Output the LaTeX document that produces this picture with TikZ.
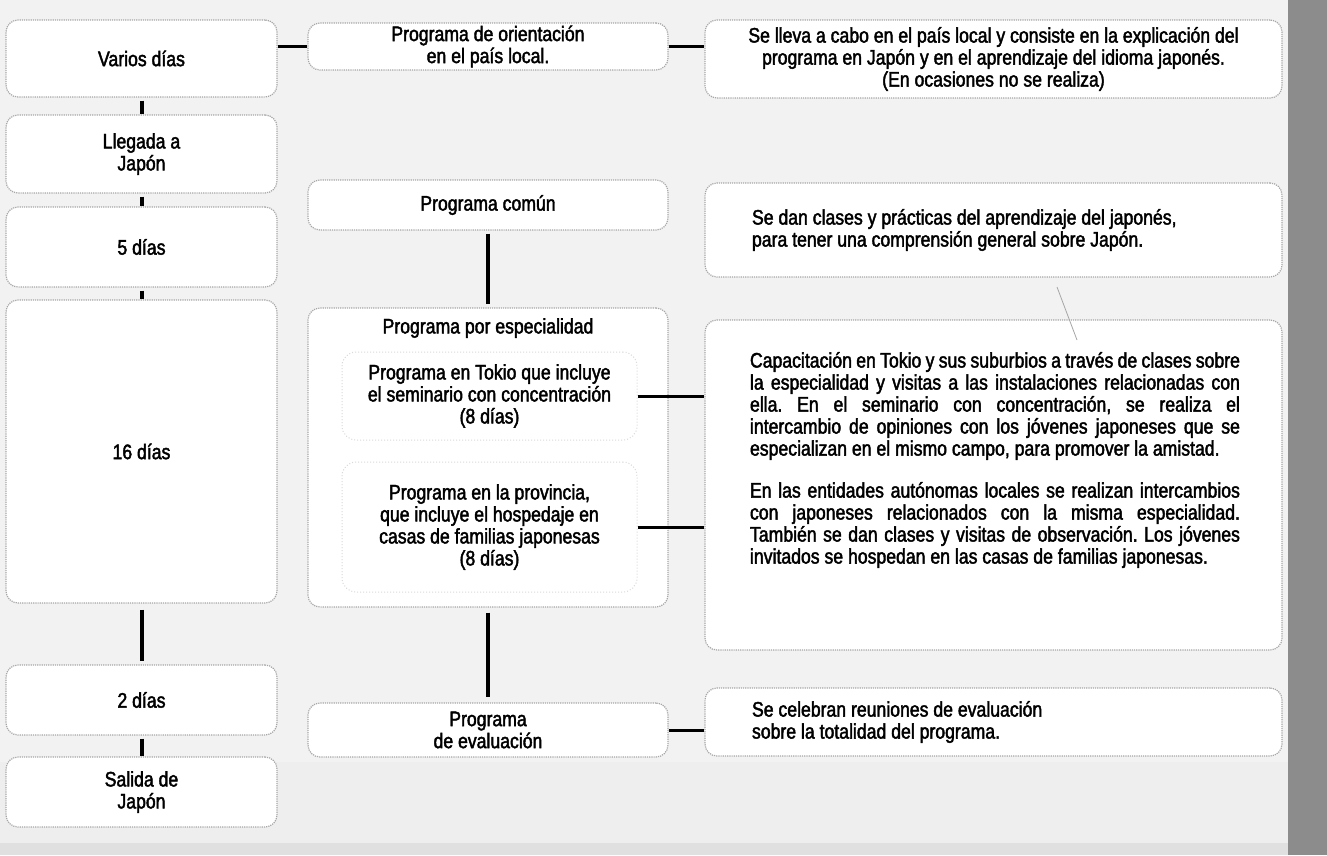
\documentclass[tikz,border=0pt]{standalone}
\usepackage{fontspec}
\setmainfont{Liberation Sans}[FakeStretch=0.84,FakeBold=2]
\usepackage{tikz}
\frenchspacing
\definecolor{scangray}{gray}{0.95}
\definecolor{edgegray}{gray}{0.65}
\definecolor{stripgray}{gray}{0.55}

\begin{document}
\begin{tikzpicture}[x=1pt,y=-1pt,
  every node/.style={font=\fontsize{21}{22}\selectfont},
  card/.style={draw=edgegray,densely dotted,line width=1.2pt,fill=white,rounded corners=12pt,inner sep=0pt,align=center},
  subcard/.style={draw=gray!30,dotted,line width=1pt,rounded corners=14pt,inner sep=0pt,align=center},
  link/.style={line width=4pt,draw=black},
  stub/.style={line width=3pt,draw=black}]
  \useasboundingbox (0,0) rectangle (1327,855);
  \fill[scangray] (0,0) rectangle (1327,855);
  \fill[gray!13] (0,762) rectangle (1288,843);
  \fill[gray!24] (0,843) rectangle (1327,855);
  \fill[stripgray] (1288,0) rectangle (1327,855);

  % left column
  \node[card,minimum width=271,minimum height=77] (dias) at (141.5,58.5) {Varios días};
  \node[card,minimum width=271,minimum height=78] (llegada) at (141.5,154) {Llegada a\\Japón};
  \node[card,minimum width=271,minimum height=80] (cinco) at (141.5,247) {5 días};
  \node[card,minimum width=271,minimum height=303] (dieciseis) at (141.5,451.5) {16 días};
  \node[card,minimum width=271,minimum height=70] (dos) at (141.5,700) {2 días};
  \node[card,minimum width=271,minimum height=70] (salida) at (141.5,792) {Salida de\\Japón};

  % middle column
  \node[card,minimum width=360,minimum height=47] (orient) at (488,46.5) {Programa de orientación\\en el país local.};
  \node[card,minimum width=360,minimum height=50] (comun) at (488,205) {Programa común};
  \node[card,minimum width=360,minimum height=299] (espec) at (488,457.5) {};
  \node (espectit) at (488,328) {Programa por especialidad};
  \node[subcard,minimum width=295,minimum height=88] (tokio) at (489.5,396)
    {Programa en Tokio que incluye\\el seminario con concentración\\(8 días)};
  \node[subcard,minimum width=295,minimum height=130] (provincia) at (489.5,527)
    {Programa en la provincia,\\que incluye el hospedaje en\\casas de familias japonesas\\(8 días)};
  \node[card,minimum width=360,minimum height=54] (evalua) at (488,730) {Programa\\de evaluación};

  % right column
  \node[card,minimum width=577,minimum height=78] (uno) at (993.5,59)
    {Se lleva a cabo en el país local y consiste en la explicación del\\programa en Japón y en el aprendizaje del idioma japonés.\\(En ocasiones no se realiza)};
  \node[card,minimum height=94,text width=483,inner xsep=47,align=flush left] (dosr) at (993.5,230)
    {Se dan clases y prácticas del aprendizaje del japonés,\\para tener una comprensión general sobre Japón.};
  \node[card,minimum width=577,minimum height=330] (tres) at (993.5,485) {};
  \node[text width=490,align=justify,inner sep=0pt] (trestxt) at (995,460)
    {Capacitación en Tokio y sus suburbios a través de clases sobre\linebreak
     la especialidad y visitas a las instalaciones relacionadas con\linebreak
     ella. En el seminario con concentración, se realiza el\linebreak
     intercambio de opiniones con los jóvenes japoneses que se\linebreak
     especializan en el mismo campo, para promover la amistad.\par\vspace{20pt}
     En las entidades autónomas locales se realizan intercambios\linebreak
     con japoneses relacionados con la misma especialidad.\linebreak
     También se dan clases y visitas de observación. Los jóvenes\linebreak
     invitados se hospedan en las casas de familias japonesas.};
  \node[card,minimum height=68,text width=483,inner xsep=47,align=flush left] (cuatro) at (993.5,722)
    {Se celebran reuniones de evaluación\\sobre la totalidad del programa.};

  \draw[gray!70,line width=0.8pt] (1057,287) -- (1077,340);

  \draw[link,shorten <=3pt] (dias) -- (llegada);
  \draw[link,shorten <=3pt] (llegada) -- (cinco);
  \draw[link,shorten <=3pt] (cinco) -- (dieciseis);
  \draw[link,shorten <=6pt,shorten >=3pt] (dieciseis) -- (dos);
  \draw[link,shorten <=3pt] (dos) -- (salida);
  \draw[link,shorten <=3pt,shorten >=3pt] (comun) -- (espec);
  \draw[link,shorten <=5pt,shorten >=5pt] (espec) -- (evalua);

  \draw[stub] (orient.west) -- (orient.west -| dias.east);
  \draw[stub] (orient.east) -- (orient.east -| uno.west);
  \draw[stub] (tokio.east) -- (tokio.east -| tres.west);
  \draw[stub] (provincia.east) -- (provincia.east -| tres.west);
  \draw[stub] (evalua.east) -- (evalua.east -| cuatro.west);
\end{tikzpicture}
\end{document}
